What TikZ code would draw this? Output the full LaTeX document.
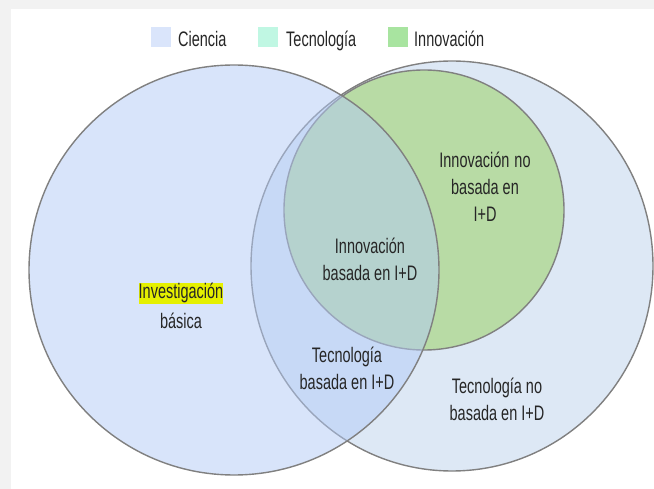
\documentclass[tikz,border=0pt]{standalone}
\usepackage{fontspec}
\usetikzlibrary{shapes.geometric}
\setmainfont{Liberation Sans}[FakeStretch=0.69]
\definecolor{bggray}{HTML}{F2F2F2}
\definecolor{ringgray}{HTML}{808080}
\definecolor{tecfill}{HTML}{DDE8F5}
\definecolor{innfill}{HTML}{B8DBA5}
\definecolor{cienfill}{HTML}{B3CBF7}
\definecolor{legA}{HTML}{DAE5FB}
\definecolor{legB}{HTML}{C0F7E3}
\definecolor{legC}{HTML}{A8E4A0}
\definecolor{hl}{HTML}{E5F000}
\definecolor{txt}{HTML}{262626}
\begin{document}
\begin{tikzpicture}[x=1pt,y=-1pt,
  ring/.style={draw=ringgray,line width=1.4pt,inner sep=0pt},
  lbl/.style={align=center,font=\fontsize{21}{27}\selectfont,text=txt,inner sep=0pt},
  keybox/.style={minimum size=20pt,inner sep=0pt}]
\useasboundingbox (0,0) rectangle (654,489);
\fill[bggray] (0,0) rectangle (654,489);
\fill[white] (11,9) rectangle (654,489);
% circles
\node[ring,ellipse,fill=tecfill,minimum width=402pt,minimum height=410pt] (tec) at (452,266) {};
\node[ring,circle,fill=innfill,minimum size=280pt] (inn) at (424,210) {};
\node[ring,circle,fill=cienfill,fill opacity=0.5,draw opacity=1,minimum size=410pt] (cien) at (234,270) {};
% legend
\node[keybox,fill=legA] (k1) at (161,37) {};
\node[lbl,anchor=base west] (t1) at (178,47) {Ciencia};
\node[keybox,fill=legB] (k2) at (268,37) {};
\node[lbl,anchor=base west] (t2) at (286,47) {Tecnología};
\node[keybox,fill=legC] (k3) at (398,37) {};
\node[lbl,anchor=base west] (t3) at (414,47) {Innovación};
% labels
\node[lbl] (innno) at (485,187) {Innovación\hspace{5pt}no\\basada en\\I+D};
\node[lbl] (innsi) at (370,259) {Innovación\\basada en I+D};
\node[lbl,fill=hl,text height=15pt,text depth=5pt,inner ysep=0.5pt] (inv1) at (181,294) {Investigación};
\node[lbl] (inv2) at (181,321) {básica};
\node[lbl] (tecsi) at (347,368) {Tecnología\\basada en I+D};
\node[lbl] (tecno) at (497,399) {Tecnología\hspace{4pt}no\\basada en I+D};
\end{tikzpicture}
\end{document}
